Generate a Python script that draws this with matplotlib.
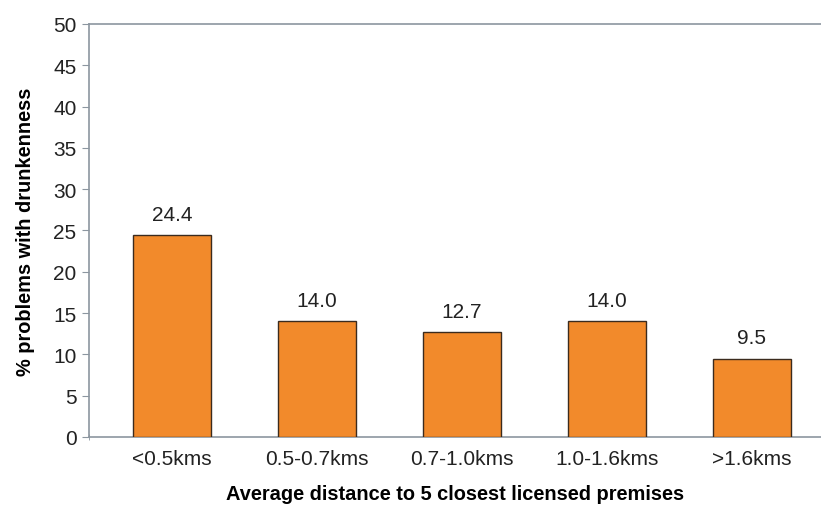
import matplotlib.pyplot as plt
from matplotlib.ticker import FixedLocator

# distance bands and share reporting drunkenness problems
categories = ['<0.5kms', '0.5-0.7kms', '0.7-1.0kms', '1.0-1.6kms', '>1.6kms']
values = [24.4, 14.0, 12.7, 14.0, 9.5]
yticks = list(range(0, 55, 5))

plt.rcParams['font.family'] = ['Liberation Sans', 'DejaVu Sans']

fig = plt.figure(figsize=(8.21, 5.06), dpi=100)
ax = fig.add_axes([0.1084, 0.1344, 0.8916, 0.8162])

x = range(len(categories))
bars = ax.bar(x, values, width=0.54, color='#F28A2B', edgecolor='#3b2b1e', linewidth=1.0, zorder=3)

for b, v in zip(bars, values):
    ax.annotate(f'{v:.1f}', (b.get_x() + b.get_width() / 2, v), xytext=(0, 8),
                textcoords='offset points', ha='center', va='bottom', fontsize=15, color='#222222')

ax.set_xlim(-0.572, 4.476)
ax.set_ylim(0, 50)
ax.set_yticks(yticks)
ax.set_xticks(list(x))
ax.set_xticklabels(categories, fontsize=15, color='#222222')
ax.xaxis.set_minor_locator(FixedLocator([-0.572]))
ax.tick_params(axis='x', which='major', length=0, pad=9)
ax.tick_params(axis='x', which='minor', length=5, color='#8C96A0', direction='inout')
ax.tick_params(axis='y', labelsize=15, labelcolor='#222222', length=5, color='#8C96A0', pad=4)

for s in ['left', 'bottom', 'top']:
    ax.spines[s].set_color('#8C96A0')
    ax.spines[s].set_linewidth(1.2)
ax.spines['right'].set_visible(False)

ax.set_ylabel('% problems with drunkenness', fontsize=14.4, fontweight='bold', labelpad=13)
ax.set_xlabel('Average distance to 5 closest licensed premises', fontsize=14.4,
              fontweight='bold', labelpad=11)

plt.savefig('out.png', dpi=100)
